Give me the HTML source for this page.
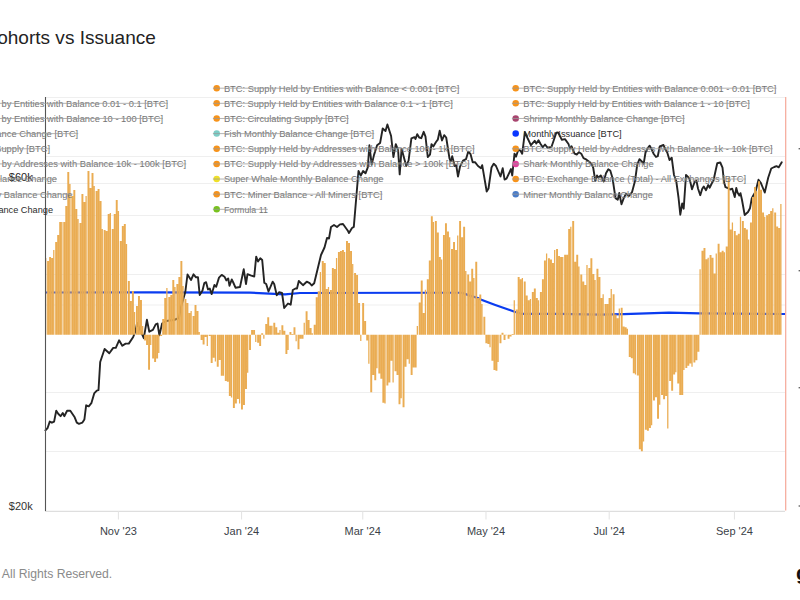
<!DOCTYPE html><html><head><meta charset="utf-8"><style>html,body{margin:0;padding:0;background:#fff;width:800px;height:600px;overflow:hidden}svg{display:block}text{font-family:"Liberation Sans",sans-serif}</style></head><body>
<svg width="800" height="600" viewBox="0 0 800 600">
<rect width="800" height="600" fill="#fff"/>
<text x="-16.55" y="44" font-size="18.5" fill="#232323" textLength="172.4" lengthAdjust="spacingAndGlyphs">Cohorts vs Issuance</text>
<line x1="45.5" x2="785" y1="97.5" y2="97.5" stroke="#efefef" stroke-width="1"/>
<line x1="45.5" x2="785" y1="156.5" y2="156.5" stroke="#efefef" stroke-width="1"/>
<line x1="45.5" x2="785" y1="183.5" y2="183.5" stroke="#efefef" stroke-width="1"/>
<line x1="45.5" x2="785" y1="215.5" y2="215.5" stroke="#efefef" stroke-width="1"/>
<line x1="45.5" x2="785" y1="274.5" y2="274.5" stroke="#efefef" stroke-width="1"/>
<line x1="45.5" x2="785" y1="305" y2="305" stroke="#efefef" stroke-width="1"/>
<line x1="45.5" x2="785" y1="392.5" y2="392.5" stroke="#efefef" stroke-width="1"/>
<line x1="45.5" x2="785" y1="451.5" y2="451.5" stroke="#efefef" stroke-width="1"/>
<line x1="45" x2="785" y1="511.3" y2="511.3" stroke="#dedede" stroke-width="1.2"/>
<line x1="118.40" x2="118.40" y1="511" y2="519.5" stroke="#e2e2e2" stroke-width="1"/>
<text x="118.40" y="535" font-size="11" fill="#3b3f48" text-anchor="middle">Nov '23</text>
<line x1="241.60" x2="241.60" y1="511" y2="519.5" stroke="#e2e2e2" stroke-width="1"/>
<text x="241.60" y="535" font-size="11" fill="#3b3f48" text-anchor="middle">Jan '24</text>
<line x1="362.78" x2="362.78" y1="511" y2="519.5" stroke="#e2e2e2" stroke-width="1"/>
<text x="362.78" y="535" font-size="11" fill="#3b3f48" text-anchor="middle">Mar '24</text>
<line x1="485.99" x2="485.99" y1="511" y2="519.5" stroke="#e2e2e2" stroke-width="1"/>
<text x="485.99" y="535" font-size="11" fill="#3b3f48" text-anchor="middle">May '24</text>
<line x1="609.19" x2="609.19" y1="511" y2="519.5" stroke="#e2e2e2" stroke-width="1"/>
<text x="609.19" y="535" font-size="11" fill="#3b3f48" text-anchor="middle">Jul '24</text>
<line x1="734.41" x2="734.41" y1="511" y2="519.5" stroke="#e2e2e2" stroke-width="1"/>
<text x="734.41" y="535" font-size="11" fill="#3b3f48" text-anchor="middle">Sep '24</text>
<polyline points="45.50,292.50 150.00,292.30 250.00,292.70 285.00,294.30 300.00,293.00 420.00,292.75 462.00,292.75 469.00,295.40 477.80,298.00 481.30,299.80 495.30,305.00 514.60,311.70 521.60,313.80 560.00,313.80 600.00,314.60 623.75,314.20 668.90,312.70 699.75,313.40 785.00,314.00" fill="none" stroke="#0a3cf0" stroke-width="2.2" stroke-linejoin="round"/>
<polyline points="45.40,430.30 47.60,428.00 49.75,421.60 51.90,422.70 54.10,421.60 56.25,410.80 58.40,414.00 60.60,416.20 62.75,413.00 64.30,416.20 67.10,410.80 70.30,410.80 72.50,414.00 74.70,417.30 76.80,422.70 79.00,423.80 82.25,422.70 84.40,419.40 86.15,405.30 88.75,406.40 91.35,403.20 94.20,393.40 96.80,390.60 98.50,390.20 100.20,362.00 104.60,349.00 109.30,353.30 113.20,347.90 115.80,347.90 119.10,340.30 122.30,345.75 125.60,343.60 128.80,343.60 133.20,337.00 135.30,331.70 137.10,323.00 143.80,338.20 146.90,319.80 149.30,331.70 152.90,329.90 155.70,324.40 157.50,323.50 159.40,335.40 162.10,323.50 166.00,321.00 174.00,320.00 179.00,318.00 181.00,307.00 185.30,292.00 187.50,274.50 191.00,280.00 193.50,274.30 196.00,277.30 198.00,277.30 199.70,295.00 202.50,290.50 204.30,283.10 206.10,282.20 208.00,289.50 209.80,288.60 211.70,294.10 214.40,285.00 216.20,286.80 219.00,277.60 221.70,274.90 224.50,276.70 226.30,280.40 228.20,278.50 229.50,285.80 231.75,279.50 233.25,282.50 235.50,287.70 240.00,287.00 243.75,269.30 246.00,284.00 247.50,274.20 251.25,275.70 254.25,276.50 256.20,256.70 258.00,261.50 260.25,258.20 262.20,260.00 264.30,282.80 266.20,284.00 268.50,291.50 272.70,281.70 274.20,284.00 276.75,295.20 279.00,292.20 282.00,293.00 284.20,308.00 288.00,303.50 290.70,304.70 292.80,290.00 295.50,288.50 297.00,288.50 298.80,281.00 303.00,285.20 306.70,281.70 309.70,283.20 311.70,285.50 314.20,283.20 321.00,255.00 324.50,247.50 327.00,238.00 329.00,238.50 331.00,227.00 334.00,225.00 337.00,227.00 340.00,224.40 343.00,224.00 348.00,231.00 349.00,233.00 352.00,228.00 353.80,226.90 358.50,171.00 360.80,175.60 363.10,171.00 365.50,173.30 367.80,167.40 369.40,145.30 371.70,164.60 374.10,154.60 377.10,145.30 380.10,143.00 382.70,128.50 385.50,131.00 387.40,124.50 391.10,136.00 393.40,157.00 395.80,144.10 398.10,150.00 399.70,174.40 401.60,148.80 404.40,159.30 406.30,166.00 408.60,160.50 411.40,138.30 414.40,137.10 415.50,139.00 417.25,134.20 419.20,137.50 421.30,138.20 423.70,131.80 425.50,136.70 427.75,157.00 430.00,154.70 431.50,144.20 433.30,146.50 436.00,142.00 437.80,139.70 439.70,130.70 442.00,140.50 444.20,135.20 446.20,137.50 449.50,158.50 450.70,161.50 452.20,156.20 454.70,166.00 456.20,165.20 458.00,176.50 460.00,166.70 463.00,160.70 466.00,159.20 468.20,151.70 470.50,154.00 472.70,162.20 475.00,162.20 478.00,166.00 481.00,168.20 482.20,165.20 486.70,191.50 488.50,188.50 491.50,167.50 493.70,163.70 496.00,166.00 500.50,176.50 502.70,168.20 504.60,179.50 506.50,178.70 511.00,169.00 512.25,175.50 514.50,153.70 516.00,156.70 518.25,150.00 520.50,150.70 522.20,153.75 524.90,132.10 527.50,138.00 530.90,145.10 534.70,140.75 536.30,143.50 538.50,140.20 540.60,144.00 542.80,147.25 545.00,144.50 547.70,147.80 551.50,146.70 553.50,141.00 556.30,132.60 558.00,132.50 559.60,135.30 561.75,139.70 565.00,139.10 568.50,144.00 570.00,148.50 571.50,146.20 574.50,153.70 576.75,154.50 579.00,152.20 581.25,153.70 583.50,158.20 586.50,159.70 589.50,162.00 591.75,164.20 593.25,168.00 595.25,180.70 597.00,175.50 598.50,177.70 600.75,175.50 603.75,181.50 606.00,173.20 608.30,169.30 610.25,170.50 612.50,178.00 615.50,198.20 617.75,199.70 619.25,193.00 621.50,204.20 623.75,198.20 626.00,193.70 629.00,196.00 632.00,192.20 635.00,181.00 637.25,164.50 639.50,159.20 641.75,161.50 643.70,163.70 645.50,152.50 647.75,148.00 649.70,145.70 651.75,149.50 653.75,154.00 656.00,157.00 657.75,156.20 659.75,146.50 663.50,145.00 665.00,148.70 667.25,152.50 669.50,160.00 671.70,157.70 674.00,175.00 676.25,181.00 678.50,197.50 680.30,214.70 682.20,203.50 683.70,208.70 686.00,175.00 688.25,177.20 689.75,179.50 692.00,189.20 694.70,181.70 696.50,181.00 698.00,188.50 700.25,195.20 702.25,188.70 703.75,186.50 706.00,190.20 708.25,185.00 709.75,187.70 711.70,183.50 713.50,180.50 715.75,170.00 717.25,163.20 720.25,162.50 722.50,167.70 724.00,182.00 725.50,187.20 727.75,188.00 730.00,189.50 732.25,188.70 734.75,197.00 736.30,188.00 737.50,192.50 739.30,195.50 740.50,193.20 742.00,200.00 744.70,215.00 748.00,212.00 750.00,208.20 751.75,198.50 753.25,195.50 755.50,191.70 758.50,179.70 760.75,182.70 764.75,192.50 768.25,177.50 771.25,168.50 774.25,167.00 776.50,166.20 778.75,167.30 781.75,162.20" fill="none" stroke="#242424" stroke-width="1.9" stroke-linejoin="round" stroke-linecap="round"/>
<path d="M45.08 258.0h1.27V334.7h-1.27zM47.10 261.0h1.94V334.7h-1.94zM49.12 257.0h1.94V334.7h-1.94zM51.14 258.0h1.94V334.7h-1.94zM53.16 250.0h1.27V334.7h-1.27zM55.18 242.0h1.94V334.7h-1.94zM57.20 235.0h1.94V334.7h-1.94zM59.22 222.0h1.94V334.7h-1.94zM61.24 222.0h1.27V334.7h-1.27zM63.26 222.0h1.94V334.7h-1.94zM65.28 206.0h1.94V334.7h-1.94zM67.30 172.0h1.94V334.7h-1.94zM69.32 184.0h1.27V334.7h-1.27zM71.34 196.0h1.94V334.7h-1.94zM73.36 190.0h1.94V334.7h-1.94zM75.38 209.0h1.94V334.7h-1.94zM77.40 219.0h1.27V334.7h-1.27zM79.42 223.0h1.94V334.7h-1.94zM81.44 194.0h1.94V334.7h-1.94zM83.46 202.0h1.94V334.7h-1.94zM85.47 196.0h1.27V334.7h-1.27zM87.49 171.0h1.94V334.7h-1.94zM89.51 188.0h1.94V334.7h-1.94zM91.53 173.0h1.94V334.7h-1.94zM93.55 186.0h1.27V334.7h-1.27zM95.57 191.0h1.94V334.7h-1.94zM97.59 189.0h1.94V334.7h-1.94zM99.61 201.0h1.94V334.7h-1.94zM101.63 229.0h1.27V334.7h-1.27zM103.65 230.0h1.94V334.7h-1.94zM105.67 231.0h1.94V334.7h-1.94zM107.69 214.0h1.94V334.7h-1.94zM109.71 213.0h1.27V334.7h-1.27zM111.73 229.0h1.94V334.7h-1.94zM113.75 214.0h1.94V334.7h-1.94zM115.77 200.0h1.94V334.7h-1.94zM117.79 211.0h1.27V334.7h-1.27zM119.81 241.0h1.94V334.7h-1.94zM121.83 226.0h1.94V334.7h-1.94zM123.85 224.0h1.94V334.7h-1.94zM125.87 244.0h1.27V334.7h-1.27zM127.89 281.0h1.94V334.7h-1.94zM129.91 301.0h1.94V334.7h-1.94zM131.93 291.0h1.94V334.7h-1.94zM133.95 312.0h1.27V334.7h-1.27zM135.97 306.0h1.94V334.7h-1.94zM137.99 296.0h1.94V334.7h-1.94zM140.01 300.0h1.94V334.7h-1.94zM142.03 326.0h1.27V334.7h-1.27zM144.05 334.7h1.94V340.5h-1.94zM146.07 334.7h1.94V345.0h-1.94zM148.09 334.7h1.94V369.7h-1.94zM150.11 334.7h1.27V345.0h-1.27zM152.13 334.7h1.94V358.5h-1.94zM154.14 334.7h1.94V362.0h-1.94zM156.16 334.7h1.94V358.5h-1.94zM158.18 334.7h1.27V353.0h-1.27zM160.20 334.7h1.94V336.0h-1.94zM162.22 319.0h1.94V334.7h-1.94zM164.24 298.0h1.94V334.7h-1.94zM166.26 288.0h1.27V334.7h-1.27zM168.28 297.0h1.94V334.7h-1.94zM170.30 295.0h1.94V334.7h-1.94zM172.32 280.0h1.94V334.7h-1.94zM174.34 287.0h1.27V334.7h-1.27zM176.36 284.0h1.94V334.7h-1.94zM178.38 277.0h1.94V334.7h-1.94zM180.40 261.0h1.94V334.7h-1.94zM182.42 286.0h1.27V334.7h-1.27zM184.44 299.0h1.94V334.7h-1.94zM186.46 303.0h1.94V334.7h-1.94zM188.48 313.0h1.94V334.7h-1.94zM190.50 311.0h1.27V334.7h-1.27zM192.52 316.0h1.94V334.7h-1.94zM194.54 305.0h1.94V334.7h-1.94zM196.56 311.0h1.94V334.7h-1.94zM198.58 332.0h1.27V334.7h-1.27zM200.60 334.7h1.94V340.0h-1.94zM202.62 334.7h1.94V344.5h-1.94zM204.64 334.7h1.94V337.0h-1.94zM206.66 334.7h1.27V346.0h-1.27zM208.68 334.7h1.94V336.0h-1.94zM210.70 334.7h1.94V363.0h-1.94zM212.72 334.7h1.94V357.7h-1.94zM214.74 334.7h1.27V361.5h-1.27zM216.76 334.7h1.94V366.7h-1.94zM218.78 334.7h1.94V360.0h-1.94zM220.79 334.7h1.94V375.7h-1.94zM222.81 334.7h1.27V375.7h-1.27zM224.83 334.7h1.94V381.0h-1.94zM226.85 334.7h1.94V381.7h-1.94zM228.87 334.7h1.94V396.0h-1.94zM230.89 334.7h1.27V397.5h-1.27zM232.91 334.7h1.94V408.0h-1.94zM234.93 334.7h1.94V403.5h-1.94zM236.95 334.7h1.94V399.0h-1.94zM238.97 334.7h1.27V403.5h-1.27zM240.99 334.7h1.94V409.5h-1.94zM243.01 334.7h1.94V405.0h-1.94zM245.03 334.7h1.94V389.0h-1.94zM247.05 334.7h1.27V372.7h-1.27zM249.07 334.7h1.94V350.0h-1.94zM251.09 330.0h1.94V334.7h-1.94zM253.11 330.0h1.94V334.7h-1.94zM255.13 334.7h1.27V342.0h-1.27zM257.15 334.7h1.94V342.7h-1.94zM259.17 334.7h1.94V346.0h-1.94zM261.19 333.3h1.94V334.7h-1.94zM263.21 334.7h1.27V338.7h-1.27zM265.23 324.0h1.94V334.7h-1.94zM267.25 317.3h1.94V334.7h-1.94zM269.27 325.7h1.94V334.7h-1.94zM271.29 325.7h1.27V334.7h-1.27zM273.31 322.7h1.94V334.7h-1.94zM275.33 327.3h1.94V334.7h-1.94zM277.35 332.7h1.94V334.7h-1.94zM279.37 330.0h1.27V334.7h-1.27zM281.39 325.3h1.94V334.7h-1.94zM283.41 330.7h1.94V334.7h-1.94zM285.43 334.7h1.94V354.0h-1.94zM287.44 334.7h1.27V350.0h-1.27zM289.46 332.0h1.94V334.7h-1.94zM291.48 334.0h1.94V334.7h-1.94zM293.50 327.3h1.94V334.7h-1.94zM295.52 334.7h1.27V341.3h-1.27zM297.54 334.7h1.94V349.3h-1.94zM299.56 334.7h1.94V338.7h-1.94zM301.58 334.7h1.94V338.7h-1.94zM303.60 322.7h1.27V334.7h-1.27zM305.62 311.3h1.94V334.7h-1.94zM307.64 320.0h1.94V334.7h-1.94zM309.66 328.0h1.94V334.7h-1.94zM311.68 333.3h1.27V334.7h-1.27zM313.70 324.7h1.94V334.7h-1.94zM315.72 297.3h1.94V334.7h-1.94zM317.74 291.3h1.94V334.7h-1.94zM319.76 272.0h1.27V334.7h-1.27zM321.78 261.0h1.94V334.7h-1.94zM323.80 263.0h1.94V334.7h-1.94zM325.82 289.0h1.94V334.7h-1.94zM327.84 287.0h1.27V334.7h-1.27zM329.86 290.0h1.94V334.7h-1.94zM331.88 268.0h1.94V334.7h-1.94zM333.90 269.0h1.94V334.7h-1.94zM335.92 258.0h1.27V334.7h-1.27zM337.94 252.0h1.94V334.7h-1.94zM339.96 251.0h1.94V334.7h-1.94zM341.98 250.0h1.94V334.7h-1.94zM344.00 252.0h1.27V334.7h-1.27zM346.02 241.0h1.94V334.7h-1.94zM348.04 243.0h1.94V334.7h-1.94zM350.06 251.0h1.94V334.7h-1.94zM352.08 264.0h1.27V334.7h-1.27zM354.10 273.0h1.94V334.7h-1.94zM356.11 275.0h1.94V334.7h-1.94zM358.13 303.0h1.94V334.7h-1.94zM360.15 334.7h1.27V341.0h-1.27zM362.17 303.0h1.94V334.7h-1.94zM364.19 321.0h1.94V334.7h-1.94zM366.21 334.7h1.94V340.5h-1.94zM368.23 334.7h1.27V363.7h-1.27zM370.25 334.7h1.94V392.2h-1.94zM372.27 334.7h1.94V375.0h-1.94zM374.29 334.7h1.94V380.2h-1.94zM376.31 334.7h1.27V368.2h-1.27zM378.33 334.7h1.94V373.4h-1.94zM380.35 334.7h1.94V378.7h-1.94zM382.37 334.7h1.94V402.7h-1.94zM384.39 334.7h1.27V403.5h-1.27zM386.41 334.7h1.94V385.5h-1.94zM388.43 334.7h1.94V382.5h-1.94zM390.45 334.7h1.94V360.7h-1.94zM392.47 334.7h1.27V382.5h-1.27zM394.49 334.7h1.94V371.2h-1.94zM396.51 334.7h1.94V375.0h-1.94zM398.53 334.7h1.94V404.2h-1.94zM400.55 334.7h1.27V398.2h-1.27zM402.57 334.7h1.94V407.2h-1.94zM404.59 334.7h1.94V366.7h-1.94zM406.61 334.7h1.94V359.2h-1.94zM408.63 334.7h1.27V363.7h-1.27zM410.65 334.7h1.94V375.0h-1.94zM412.67 334.7h1.94V367.5h-1.94zM414.69 334.7h1.94V367.5h-1.94zM416.71 326.0h1.27V334.7h-1.27zM418.73 302.6h1.94V334.7h-1.94zM420.75 280.4h1.94V334.7h-1.94zM422.76 313.0h1.94V334.7h-1.94zM424.78 289.7h1.27V334.7h-1.27zM426.80 279.3h1.94V334.7h-1.94zM428.82 260.6h1.94V334.7h-1.94zM430.84 216.3h1.94V334.7h-1.94zM432.86 222.0h1.27V334.7h-1.27zM434.88 221.0h1.94V334.7h-1.94zM436.90 232.6h1.94V334.7h-1.94zM438.92 257.0h1.94V334.7h-1.94zM440.94 259.4h1.27V334.7h-1.27zM442.96 235.0h1.94V334.7h-1.94zM444.98 223.3h1.94V334.7h-1.94zM447.00 231.5h1.94V334.7h-1.94zM449.02 237.3h1.27V334.7h-1.27zM451.04 249.0h1.94V334.7h-1.94zM453.06 242.0h1.94V334.7h-1.94zM455.08 250.0h1.94V334.7h-1.94zM457.10 235.5h1.27V334.7h-1.27zM459.12 221.0h1.94V334.7h-1.94zM461.14 237.3h1.94V334.7h-1.94zM463.16 226.8h1.94V334.7h-1.94zM465.18 271.0h1.27V334.7h-1.27zM467.20 274.6h1.94V334.7h-1.94zM469.22 281.6h1.94V334.7h-1.94zM471.24 268.8h1.94V334.7h-1.94zM473.26 278.0h1.27V334.7h-1.27zM475.28 261.8h1.94V334.7h-1.94zM477.30 298.0h1.94V334.7h-1.94zM479.32 294.4h1.94V334.7h-1.94zM481.34 304.0h1.27V334.7h-1.27zM483.36 316.7h1.94V334.7h-1.94zM485.38 334.7h1.94V343.3h-1.94zM487.40 334.7h1.94V344.0h-1.94zM489.41 334.7h1.27V347.3h-1.27zM491.43 334.7h1.94V360.7h-1.94zM493.45 334.7h1.94V370.0h-1.94zM495.47 334.7h1.94V370.7h-1.94zM497.49 334.7h1.27V362.0h-1.27zM499.51 334.7h1.94V343.3h-1.94zM501.53 332.7h1.94V334.7h-1.94zM503.55 334.7h1.94V340.0h-1.94zM505.57 334.7h1.27V335.3h-1.27zM507.59 334.7h1.94V338.7h-1.94zM509.61 334.7h1.94V336.4h-1.94zM511.63 334.0h1.94V334.7h-1.94zM513.65 300.2h1.27V334.7h-1.27zM515.67 309.6h1.94V334.7h-1.94zM517.69 277.0h1.94V334.7h-1.94zM519.71 279.3h1.94V334.7h-1.94zM521.73 278.0h1.27V334.7h-1.27zM523.75 281.6h1.94V334.7h-1.94zM525.77 295.6h1.94V334.7h-1.94zM527.79 300.2h1.94V334.7h-1.94zM529.81 299.0h1.27V334.7h-1.27zM531.83 292.0h1.94V334.7h-1.94zM533.85 288.6h1.94V334.7h-1.94zM535.87 298.0h1.94V334.7h-1.94zM537.89 300.2h1.27V334.7h-1.27zM539.91 292.0h1.94V334.7h-1.94zM541.93 279.3h1.94V334.7h-1.94zM543.95 260.6h1.94V334.7h-1.94zM545.97 253.6h1.27V334.7h-1.27zM547.99 258.3h1.94V334.7h-1.94zM550.01 259.4h1.94V334.7h-1.94zM552.03 263.0h1.94V334.7h-1.94zM554.05 250.1h1.27V334.7h-1.27zM556.07 249.0h1.94V334.7h-1.94zM558.08 256.0h1.94V334.7h-1.94zM560.10 257.0h1.94V334.7h-1.94zM562.12 257.0h1.27V334.7h-1.27zM564.14 254.8h1.94V334.7h-1.94zM566.16 254.8h1.94V334.7h-1.94zM568.18 229.0h1.94V334.7h-1.94zM570.20 226.8h1.27V334.7h-1.27zM572.22 221.0h1.94V334.7h-1.94zM574.24 261.8h1.94V334.7h-1.94zM576.26 254.8h1.94V334.7h-1.94zM578.28 266.4h1.27V334.7h-1.27zM580.30 274.6h1.94V334.7h-1.94zM582.32 281.6h1.94V334.7h-1.94zM584.34 285.0h1.94V334.7h-1.94zM586.36 265.0h1.27V334.7h-1.27zM588.38 268.0h1.94V334.7h-1.94zM590.40 258.2h1.94V334.7h-1.94zM592.42 274.0h1.94V334.7h-1.94zM594.44 280.0h1.27V334.7h-1.27zM596.46 268.7h1.94V334.7h-1.94zM598.48 277.0h1.94V334.7h-1.94zM600.50 298.0h1.94V334.7h-1.94zM602.52 294.2h1.27V334.7h-1.27zM604.54 304.0h1.94V334.7h-1.94zM606.56 304.0h1.94V334.7h-1.94zM608.58 298.0h1.94V334.7h-1.94zM610.60 289.0h1.27V334.7h-1.27zM612.62 294.2h1.94V334.7h-1.94zM614.64 314.5h1.94V334.7h-1.94zM616.66 318.2h1.94V334.7h-1.94zM618.68 308.5h1.27V334.7h-1.27zM620.70 307.7h1.94V334.7h-1.94zM622.72 326.5h1.94V334.7h-1.94zM624.73 327.2h1.94V334.7h-1.94zM626.75 328.7h1.27V334.7h-1.27zM628.77 334.7h1.94V357.0h-1.94zM630.79 334.7h1.94V358.2h-1.94zM632.81 334.7h1.94V373.3h-1.94zM634.83 334.7h1.27V374.4h-1.27zM636.85 334.7h1.94V375.5h-1.94zM638.87 334.7h1.94V449.2h-1.94zM640.89 334.7h1.94V451.3h-1.94zM642.91 334.7h1.27V441.6h-1.27zM644.93 334.7h1.94V429.7h-1.94zM646.95 334.7h1.94V430.8h-1.94zM648.97 334.7h1.94V428.1h-1.94zM650.99 334.7h1.27V425.3h-1.27zM653.01 334.7h1.94V400.4h-1.94zM655.03 334.7h1.94V397.2h-1.94zM657.05 334.7h1.94V418.8h-1.94zM659.07 334.7h1.27V404.8h-1.27zM661.09 334.7h1.94V395.0h-1.94zM663.11 334.7h1.94V399.3h-1.94zM665.13 334.7h1.94V396.0h-1.94zM667.15 334.7h1.27V428.6h-1.27zM669.17 334.7h1.94V381.0h-1.94zM671.19 334.7h1.94V390.7h-1.94zM673.21 334.7h1.94V374.4h-1.94zM675.23 334.7h1.27V372.3h-1.27zM677.25 334.7h1.94V383.6h-1.94zM679.27 334.7h1.94V395.0h-1.94zM681.29 334.7h1.94V395.0h-1.94zM683.31 334.7h1.27V370.0h-1.27zM685.33 334.7h1.94V367.9h-1.94zM687.35 334.7h1.94V365.7h-1.94zM689.37 334.7h1.94V363.6h-1.94zM691.38 334.7h1.27V366.8h-1.27zM693.40 334.7h1.94V362.5h-1.94zM695.42 334.7h1.94V360.3h-1.94zM697.44 334.7h1.94V351.7h-1.94zM699.46 269.2h1.27V334.7h-1.27zM701.48 250.7h1.94V334.7h-1.94zM703.50 247.9h1.94V334.7h-1.94zM705.52 259.2h1.94V334.7h-1.94zM707.54 257.8h1.27V334.7h-1.27zM709.56 255.0h1.94V334.7h-1.94zM711.58 257.8h1.94V334.7h-1.94zM713.60 273.4h1.94V334.7h-1.94zM715.62 253.6h1.27V334.7h-1.27zM717.64 243.7h1.94V334.7h-1.94zM719.66 252.2h1.94V334.7h-1.94zM721.68 250.7h1.94V334.7h-1.94zM723.70 252.2h1.27V334.7h-1.27zM725.72 246.5h1.94V334.7h-1.94zM727.74 177.5h1.94V334.7h-1.94zM729.76 229.5h1.94V334.7h-1.94zM731.78 222.4h1.27V334.7h-1.27zM733.80 230.9h1.94V334.7h-1.94zM735.82 235.2h1.94V334.7h-1.94zM737.84 233.7h1.94V334.7h-1.94zM739.86 216.7h1.27V334.7h-1.27zM741.88 221.0h1.94V334.7h-1.94zM743.90 228.0h1.94V334.7h-1.94zM745.92 229.5h1.94V334.7h-1.94zM747.94 239.4h1.27V334.7h-1.27zM749.96 222.4h1.94V334.7h-1.94zM751.98 196.9h1.94V334.7h-1.94zM754.00 187.0h1.94V334.7h-1.94zM756.02 191.2h1.27V334.7h-1.27zM758.04 181.3h1.94V334.7h-1.94zM760.05 189.8h1.94V334.7h-1.94zM762.07 212.5h1.94V334.7h-1.94zM764.09 216.7h1.27V334.7h-1.27zM766.11 215.3h1.94V334.7h-1.94zM768.13 213.9h1.94V334.7h-1.94zM770.15 211.0h1.94V334.7h-1.94zM772.17 208.2h1.27V334.7h-1.27zM774.19 212.5h1.94V334.7h-1.94zM776.21 226.6h1.94V334.7h-1.94zM778.23 228.0h1.94V334.7h-1.94zM780.25 204.0h1.27V334.7h-1.27z" fill="#eaac52"/>
<line x1="45.5" x2="45.5" y1="97" y2="511" stroke="#555" stroke-width="1.1"/>
<line x1="785.7" x2="785.7" y1="97" y2="510.5" stroke="#f5a898" stroke-width="1.2"/>
<text x="8.8" y="181" font-size="11" fill="#222">$60k</text>
<text x="8.8" y="509.8" font-size="11" fill="#333">$20k</text>
<rect x="798.6" y="148.0" width="1.4" height="1.4" fill="#666"/>
<rect x="798.6" y="270.0" width="1.4" height="1.4" fill="#666"/>
<rect x="798.6" y="387.0" width="1.4" height="1.4" fill="#666"/>
<rect x="798.6" y="505.3" width="1.4" height="1.4" fill="#666"/>
<text x="-75.1" y="106.74" font-size="9.9" fill="#747474" textLength="243.1" lengthAdjust="spacingAndGlyphs">BTC: Supply Held by Entities with Balance 0.01 - 0.1 [BTC]</text>
<line x1="-86.1" x2="168" y1="103.34" y2="103.34" stroke="#999" stroke-width="0.75"/>
<text x="-75.1" y="121.88" font-size="9.9" fill="#747474" textLength="238.1" lengthAdjust="spacingAndGlyphs">BTC: Supply Held by Entities with Balance 10 - 100 [BTC]</text>
<line x1="-86.1" x2="163" y1="118.48" y2="118.48" stroke="#999" stroke-width="0.75"/>
<text x="-75.1" y="137.02" font-size="9.9" fill="#747474" textLength="153.3" lengthAdjust="spacingAndGlyphs">Crab Monthly Balance Change [BTC]</text>
<line x1="-86.1" x2="78.2" y1="133.62" y2="133.62" stroke="#999" stroke-width="0.75"/>
<text x="-75.1" y="152.16" font-size="9.9" fill="#747474" textLength="125.1" lengthAdjust="spacingAndGlyphs">BTC: Circulating Supply [BTC]</text>
<line x1="-86.1" x2="50" y1="148.76" y2="148.76" stroke="#999" stroke-width="0.75"/>
<text x="-75.1" y="167.30" font-size="9.9" fill="#747474" textLength="261.3" lengthAdjust="spacingAndGlyphs">BTC: Supply Held by Addresses with Balance 10k - 100k [BTC]</text>
<line x1="-86.1" x2="186.2" y1="163.90" y2="163.90" stroke="#999" stroke-width="0.75"/>
<text x="-75.1" y="182.44" font-size="9.9" fill="#747474" textLength="132.1" lengthAdjust="spacingAndGlyphs">Whale Monthly Balance Change</text>
<line x1="-86.1" x2="57" y1="179.04" y2="179.04" stroke="#999" stroke-width="0.75"/>
<text x="-75.1" y="197.58" font-size="9.9" fill="#747474" textLength="147.6" lengthAdjust="spacingAndGlyphs">Exchange Monthly Balance Change</text>
<line x1="-86.1" x2="72.5" y1="194.18" y2="194.18" stroke="#999" stroke-width="0.75"/>
<text x="-75.1" y="212.72" font-size="9.9" fill="#2b2b2b" textLength="128.1" lengthAdjust="spacingAndGlyphs">Entity Monthly Balance Change</text>
<circle cx="216.7" cy="88.20" r="3.25" fill="#f7931a"/>
<text x="223.9" y="91.60" font-size="9.9" fill="#747474" textLength="235.5" lengthAdjust="spacingAndGlyphs">BTC: Supply Held by Entities with Balance &lt; 0.001 [BTC]</text>
<line x1="212.89999999999998" x2="459.4" y1="88.20" y2="88.20" stroke="#999" stroke-width="0.75"/>
<circle cx="216.7" cy="103.34" r="3.25" fill="#f7931a"/>
<text x="223.9" y="106.74" font-size="9.9" fill="#747474" textLength="228.9" lengthAdjust="spacingAndGlyphs">BTC: Supply Held by Entities with Balance 0.1 - 1 [BTC]</text>
<line x1="212.89999999999998" x2="452.8" y1="103.34" y2="103.34" stroke="#999" stroke-width="0.75"/>
<circle cx="216.7" cy="118.48" r="3.25" fill="#f7931a"/>
<text x="223.9" y="121.88" font-size="9.9" fill="#747474" textLength="124.8" lengthAdjust="spacingAndGlyphs">BTC: Circulating Supply [BTC]</text>
<line x1="212.89999999999998" x2="348.7" y1="118.48" y2="118.48" stroke="#999" stroke-width="0.75"/>
<circle cx="216.7" cy="133.62" r="3.25" fill="#7dcdc6"/>
<text x="223.9" y="137.02" font-size="9.9" fill="#747474" textLength="150.3" lengthAdjust="spacingAndGlyphs">Fish Monthly Balance Change [BTC]</text>
<line x1="212.89999999999998" x2="374.2" y1="133.62" y2="133.62" stroke="#999" stroke-width="0.75"/>
<circle cx="216.7" cy="148.76" r="3.25" fill="#f7931a"/>
<text x="223.9" y="152.16" font-size="9.9" fill="#747474" textLength="250.6" lengthAdjust="spacingAndGlyphs">BTC: Supply Held by Addresses with Balance 100 - 1k [BTC]</text>
<line x1="212.89999999999998" x2="474.5" y1="148.76" y2="148.76" stroke="#999" stroke-width="0.75"/>
<circle cx="216.7" cy="163.90" r="3.25" fill="#f7931a"/>
<text x="223.9" y="167.30" font-size="9.9" fill="#747474" textLength="245.8" lengthAdjust="spacingAndGlyphs">BTC: Supply Held by Addresses with Balance &gt; 100k [BTC]</text>
<line x1="212.89999999999998" x2="469.7" y1="163.90" y2="163.90" stroke="#999" stroke-width="0.75"/>
<circle cx="216.7" cy="179.04" r="3.25" fill="#efe02a"/>
<text x="223.9" y="182.44" font-size="9.9" fill="#747474" textLength="159.6" lengthAdjust="spacingAndGlyphs">Super Whale Monthly Balance Change</text>
<line x1="212.89999999999998" x2="383.5" y1="179.04" y2="179.04" stroke="#999" stroke-width="0.75"/>
<circle cx="216.7" cy="194.18" r="3.25" fill="#f7931a"/>
<text x="223.9" y="197.58" font-size="9.9" fill="#747474" textLength="158.5" lengthAdjust="spacingAndGlyphs">BTC: Miner Balance - All Miners [BTC]</text>
<line x1="212.89999999999998" x2="382.4" y1="194.18" y2="194.18" stroke="#999" stroke-width="0.75"/>
<circle cx="216.7" cy="209.32" r="3.25" fill="#78c21e"/>
<text x="223.9" y="212.72" font-size="9.9" fill="#747474" textLength="43.9" lengthAdjust="spacingAndGlyphs">Formula 11</text>
<line x1="212.89999999999998" x2="267.8" y1="209.32" y2="209.32" stroke="#999" stroke-width="0.75"/>
<circle cx="515.7" cy="88.20" r="3.25" fill="#f7931a"/>
<text x="523.3" y="91.60" font-size="9.9" fill="#747474" textLength="253.1" lengthAdjust="spacingAndGlyphs">BTC: Supply Held by Entities with Balance 0.001 - 0.01 [BTC]</text>
<line x1="511.90000000000003" x2="776.4" y1="88.20" y2="88.20" stroke="#999" stroke-width="0.75"/>
<circle cx="515.7" cy="103.34" r="3.25" fill="#f7931a"/>
<text x="523.3" y="106.74" font-size="9.9" fill="#747474" textLength="226.5" lengthAdjust="spacingAndGlyphs">BTC: Supply Held by Entities with Balance 1 - 10 [BTC]</text>
<line x1="511.90000000000003" x2="749.8" y1="103.34" y2="103.34" stroke="#999" stroke-width="0.75"/>
<circle cx="515.7" cy="118.48" r="3.25" fill="#a8456f"/>
<text x="523.3" y="121.88" font-size="9.9" fill="#747474" textLength="161.3" lengthAdjust="spacingAndGlyphs">Shrimp Monthly Balance Change [BTC]</text>
<line x1="511.90000000000003" x2="684.6" y1="118.48" y2="118.48" stroke="#999" stroke-width="0.75"/>
<circle cx="515.7" cy="133.62" r="3.25" fill="#0a36ff"/>
<text x="523.3" y="137.02" font-size="9.9" fill="#2b2b2b" textLength="98.4" lengthAdjust="spacingAndGlyphs">Monthly Issuance [BTC]</text>
<circle cx="515.7" cy="148.76" r="3.25" fill="#f7931a"/>
<text x="523.3" y="152.16" font-size="9.9" fill="#747474" textLength="249.4" lengthAdjust="spacingAndGlyphs">BTC: Supply Held by Addresses with Balance 1k - 10k [BTC]</text>
<line x1="511.90000000000003" x2="772.7" y1="148.76" y2="148.76" stroke="#999" stroke-width="0.75"/>
<circle cx="515.7" cy="163.90" r="3.25" fill="#e0439e"/>
<text x="523.3" y="167.30" font-size="9.9" fill="#747474" textLength="130.3" lengthAdjust="spacingAndGlyphs">Shark Monthly Balance Change</text>
<line x1="511.90000000000003" x2="653.6" y1="163.90" y2="163.90" stroke="#999" stroke-width="0.75"/>
<circle cx="515.7" cy="179.04" r="3.25" fill="#f7931a"/>
<text x="523.3" y="182.44" font-size="9.9" fill="#747474" textLength="222.7" lengthAdjust="spacingAndGlyphs">BTC: Exchange Balance (Total) - All Exchanges [BTC]</text>
<line x1="511.90000000000003" x2="746" y1="179.04" y2="179.04" stroke="#999" stroke-width="0.75"/>
<circle cx="515.7" cy="194.18" r="3.25" fill="#4a7cc8"/>
<text x="523.3" y="197.58" font-size="9.9" fill="#747474" textLength="129.5" lengthAdjust="spacingAndGlyphs">Miner Monthly Balance Change</text>
<line x1="511.90000000000003" x2="652.8" y1="194.18" y2="194.18" stroke="#999" stroke-width="0.75"/>
<text x="1.8" y="577.5" font-size="12.2" fill="#8a8a8a">All Rights Reserved.</text>
<text x="796" y="580" font-size="21" font-weight="bold" fill="#111">g</text>
</svg></body></html>
